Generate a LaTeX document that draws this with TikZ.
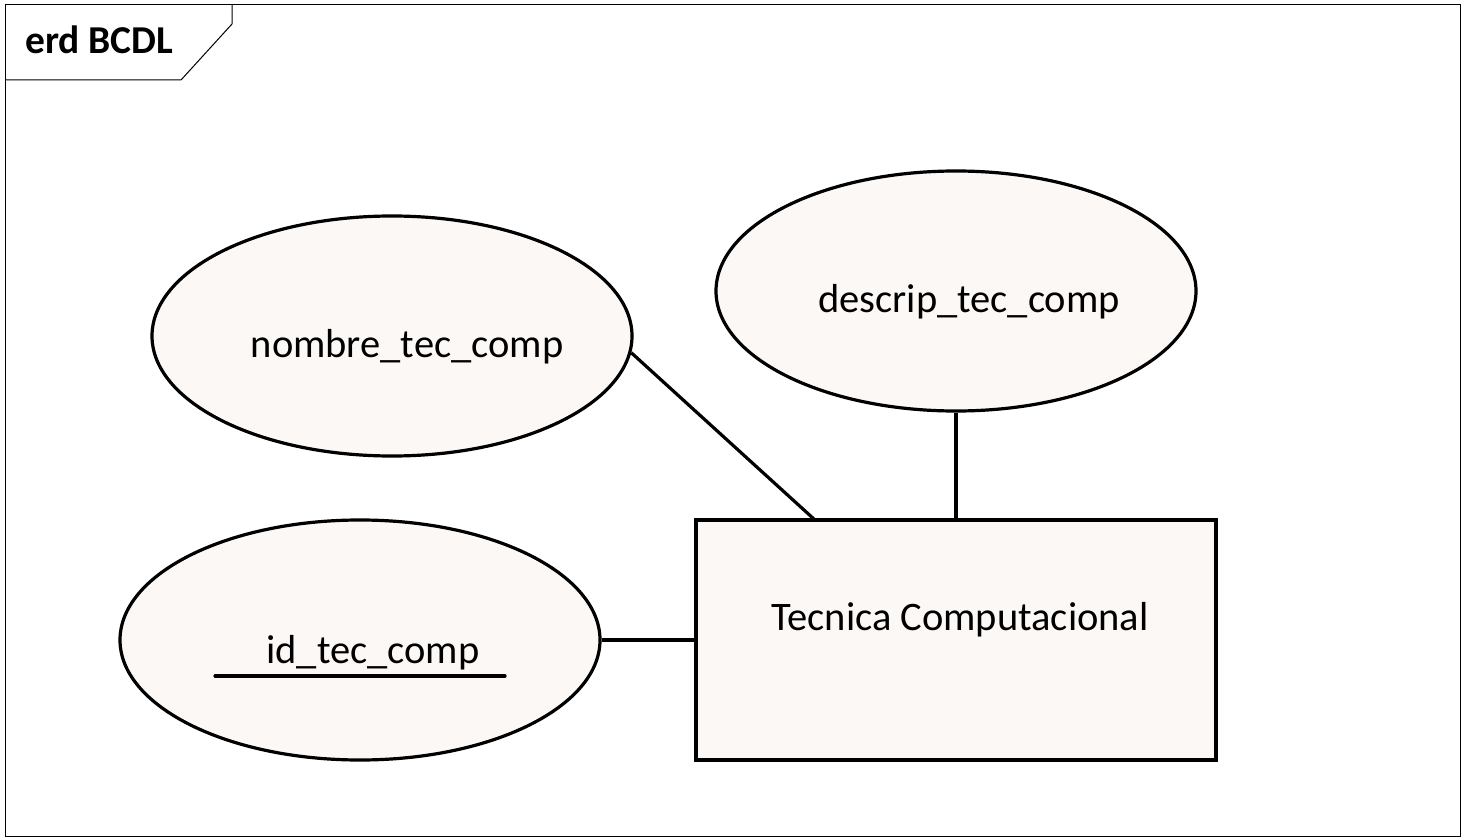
\documentclass[tikz,border=0pt]{standalone}
\usepackage{fontspec}
\setmainfont{Carlito}
\usetikzlibrary{shapes.geometric}
\definecolor{entfill}{HTML}{FCF8F5}
\tikzset{
  attr/.style={ellipse, draw=black, line width=3.2pt, fill=entfill, minimum width=480pt, minimum height=240pt, inner sep=0pt},
  entity/.style={rectangle, draw=black, line width=4pt, fill=entfill, minimum width=520pt, minimum height=240pt, inner sep=0pt},
  lbl/.style={anchor=base, inner sep=0pt, font=\fontsize{40.5}{45}\selectfont},
  conn/.style={draw=black, line width=3.2pt},
  frame/.style={draw=black, line width=1pt}
}
\begin{document}
\begin{tikzpicture}[x=1pt,y=-1pt]
\useasboundingbox (0,0) rectangle (1464,840);
\draw[frame] (5,5) rectangle (1460,836);
\draw[frame] (5,80) -- (181,80) -- (232,24) -- (232,5);
\node[anchor=base west, inner sep=0pt, font=\fontsize{39.5}{44}\selectfont\bfseries] (title) at (25,54) {erd BCDL};
\node[attr] (nombre) at (392,336) {};
\node[attr] (descrip) at (956,291) {};
\node[attr] (id) at (360,640) {};
\node[entity] (ent) at (956,640) {};
\node[lbl] (tnombre) at (407,357) {nombre\_tec\_comp};
\node[lbl] (tdescrip) at (969,312) {descrip\_tec\_comp};
\node[lbl] (tid) at (373,663) {id\_tec\_comp};
\node[lbl] (tent) at (960,630) {Tecnica Computacional};
\coordinate (u1) at (215,676);
\coordinate (u2) at (505,676);
\draw[line width=3.2pt, line cap=round] (u1) -- (u2);
\coordinate (entn) at (815,520);
\draw[conn] (nombre.-4.5) -- (entn);
\draw[conn] (descrip.south) -- (ent.north);
\draw[conn] (id.east) -- (ent.west);
\end{tikzpicture}
\end{document}
